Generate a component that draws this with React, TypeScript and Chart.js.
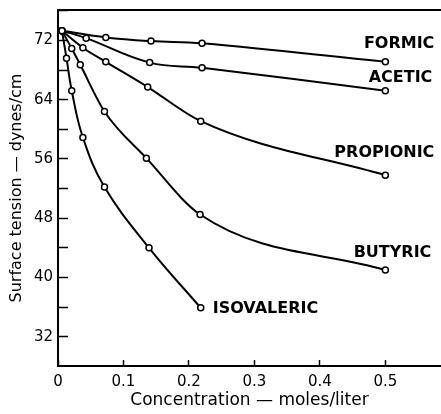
import React, { useEffect, useRef } from "react";
import { Chart, registerables } from "chart.js";

Chart.register(...registerables);

// Concentration (moles/liter) and surface tension (dynes/cm)
const formicConc = [0.006, 0.073, 0.142, 0.22, 0.5];
const formicTension = [73.3, 72.4, 71.9, 71.6, 69.1];

const aceticConc = [0.006, 0.043, 0.14, 0.22, 0.5];
const aceticTension = [73.3, 72.3, 69.0, 68.3, 65.2];

const propionicConc = [0.006, 0.038, 0.073, 0.137, 0.218, 0.5];
const propionicTension = [73.3, 71.0, 69.1, 65.7, 61.1, 53.8];

const butyricConc = [0.006, 0.021, 0.034, 0.071, 0.135, 0.217, 0.5];
const butyricTension = [73.3, 70.9, 68.7, 62.4, 56.1, 48.5, 41.0];

const isovalericConc = [0.006, 0.013, 0.021, 0.038, 0.071, 0.139, 0.218];
const isovalericTension = [73.3, 69.6, 65.2, 58.9, 52.2, 44.0, 35.9];

const seriesNames = ["FORMIC", "ACETIC", "PROPIONIC", "BUTYRIC", "ISOVALERIC"];

const xTitle = "Concentration \u2014 moles/liter";
const yTitle = "Surface tension \u2014 dynes/cm";

const xMin = 0;
const xMax = 0.585;
const xStep = 0.1;
const yMin = 28.05;
const yMax = 76.1;
const yStep = 4;
const yLabelEvery = 8;

// curve drawing per series
const curveStyle = [
  { mode: "default", tension: 0.4 },
  { mode: "default", tension: 0.4 },
  { mode: "monotone", tension: 0.4 },
  { mode: "monotone", tension: 0.4 },
  { mode: "default", tension: 0.4 },
];

// label placement relative to the last point of each series (pixels)
const labelPlacement = [
  { dx: 49, dy: -18, align: "right" },
  { dx: 47, dy: -13, align: "right" },
  { dx: 49, dy: -22, align: "right" },
  { dx: 46, dy: -17, align: "right" },
  { dx: 12, dy: 1, align: "left" },
];

const pairs = (xs: number[], ys: number[]) => xs.map((x, i) => ({ x, y: ys[i] }));

const curveLabels = {
  id: "curveLabels",
  afterDatasetsDraw(chart: any) {
    const ctx = chart.ctx;
    ctx.save();
    ctx.fillStyle = "#000";
    ctx.font = "bold 16px 'DejaVu Sans'";
    ctx.textBaseline = "middle";
    seriesNames.forEach((name, i) => {
      const meta = chart.getDatasetMeta(i);
      const pts = meta.data;
      const last = pts[pts.length - 1];
      const p = labelPlacement[i];
      ctx.textAlign = p.align;
      ctx.fillText(name, last.x + p.dx, last.y + p.dy);
    });
    ctx.restore();
  },
};

const noPad = (s: any) => {
  s.paddingTop = 0;
  s.paddingBottom = 0;
  s.paddingLeft = 0;
  s.paddingRight = 0;
};

export default function App() {
  const ref = useRef<HTMLCanvasElement | null>(null);

  useEffect(() => {
    if (!ref.current) return;
    const allSeries = [
      pairs(formicConc, formicTension),
      pairs(aceticConc, aceticTension),
      pairs(propionicConc, propionicTension),
      pairs(butyricConc, butyricTension),
      pairs(isovalericConc, isovalericTension),
    ];
    const chart = new Chart(ref.current, {
      type: "line",
      data: {
        datasets: allSeries.map((d, i) => ({
          label: seriesNames[i],
          data: d,
          borderColor: "#000",
          borderWidth: 2,
          tension: curveStyle[i].tension,
          cubicInterpolationMode: curveStyle[i].mode as any,
          pointRadius: 3,
          pointBackgroundColor: "#fff",
          pointBorderColor: "#000",
          pointBorderWidth: 1.5,
          clip: false as any,
        })),
      },
      options: {
        animation: false,
        responsive: true,
        maintainAspectRatio: false,
        layout: { padding: 0, autoPadding: false },
        plugins: {
          legend: { display: false },
          tooltip: { enabled: false },
        },
        scales: {
          x: {
            type: "linear",
            position: "bottom",
            min: xMin,
            max: xMax,
            afterFit: (s: any) => {
              s.height = 48;
              noPad(s);
            },
            border: { display: true, color: "#000", width: 2 },
            grid: {
              drawOnChartArea: false,
              drawTicks: true,
              tickLength: -6,
              tickColor: "#000",
              tickWidth: 1.5,
            },
            ticks: {
              stepSize: xStep,
              includeBounds: false,
              autoSkip: false,
              maxRotation: 0,
              padding: 13,
              color: "#000",
              font: { family: "'DejaVu Sans'", size: 15 },
              callback: (v: any) => (Math.abs(v) < 1e-9 ? "0" : Number(v).toFixed(1)),
            },
            title: {
              display: true,
              text: xTitle,
              color: "#000",
              font: { family: "'DejaVu Sans'", size: 17 },
              padding: { top: 0, bottom: 3 },
            },
          },
          xTop: {
            type: "linear",
            position: "top",
            min: xMin,
            max: xMax,
            afterFit: (s: any) => {
              s.height = 10;
              noPad(s);
            },
            border: { display: true, color: "#000", width: 2 },
            grid: { drawOnChartArea: false, drawTicks: false },
            ticks: { display: false },
          },
          y: {
            type: "linear",
            position: "left",
            min: yMin,
            max: yMax,
            afterFit: (s: any) => {
              s.width = 58;
              noPad(s);
            },
            border: { display: true, color: "#000", width: 2 },
            grid: {
              drawOnChartArea: false,
              drawTicks: true,
              tickLength: -10,
              tickColor: "#000",
              tickWidth: 1.5,
            },
            ticks: {
              stepSize: yStep,
              includeBounds: false,
              autoSkip: false,
              padding: 15,
              color: "#000",
              font: { family: "'DejaVu Sans'", size: 15 },
              callback: (v: any) => (Math.round(v) % yLabelEvery === 0 ? String(Math.round(v)) : ""),
            },
            title: {
              display: true,
              text: yTitle,
              color: "#000",
              font: { family: "'DejaVu Sans'", size: 16 },
              padding: { top: 7, bottom: 0 },
            },
          },
        },
      } as any,
      plugins: [curveLabels],
    });
    return () => chart.destroy();
  }, []);

  return (
    <div style={{ position: "absolute", left: 0, top: 0, width: 441, height: 414, background: "#fff" }}>
      <canvas ref={ref} />
    </div>
  );
}
